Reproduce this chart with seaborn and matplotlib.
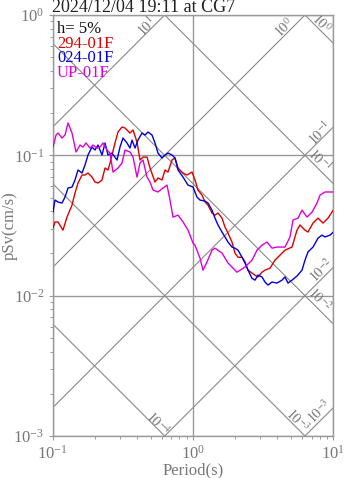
import numpy as np
import pandas as pd
import matplotlib
matplotlib.use("Agg")
import matplotlib.pyplot as plt
import seaborn as sns
from matplotlib.ticker import LogLocator, NullFormatter

# ---------------- data ----------------
period_294 = [0.1005, 0.1038, 0.1091, 0.1184, 0.1264, 0.1373, 0.1442, 0.1515, 0.1618, 0.1699,
              0.1785, 0.1906, 0.2002, 0.2103, 0.2246, 0.2360, 0.2479, 0.2562, 0.2780, 0.2921,
              0.3119, 0.3276, 0.3556, 0.3736, 0.3989, 0.4191, 0.4402, 0.4701, 0.4938, 0.5362,
              0.5632, 0.6012, 0.6316, 0.6635, 0.7086, 0.7444, 0.7822, 0.8487, 0.9064, 0.9837,
              1.033, 1.085, 1.159, 1.218, 1.279, 1.366, 1.435, 1.507, 1.610, 1.691,
              1.776, 1.897, 1.992, 2.093, 2.235, 2.348, 2.466, 2.633, 2.766, 2.906,
              3.102, 3.261, 3.538, 3.840, 4.309, 4.526, 5.078, 5.511, 5.790, 6.284,
              6.602, 7.168, 7.780, 8.444, 9.169, 10.0]
sv_294 = [0.0303, 0.0335, 0.0335, 0.0293, 0.0363, 0.0442, 0.0539, 0.0635, 0.0724, 0.0724,
          0.0748, 0.0700, 0.0645, 0.0635, 0.0667, 0.0812, 0.0786, 0.0882, 0.1224, 0.1466,
          0.1591, 0.1565, 0.1442, 0.1515, 0.1244, 0.0926, 0.0972, 0.0972, 0.0812, 0.0645,
          0.0689, 0.0667, 0.0786, 0.0760, 0.0926, 0.0957, 0.0812, 0.0748, 0.0724, 0.0760,
          0.0667, 0.0566, 0.0521, 0.0465, 0.0442, 0.0388, 0.0375, 0.0388, 0.0357, 0.0308,
          0.0279, 0.0241, 0.0201, 0.0188, 0.0188, 0.0174, 0.0152, 0.0145, 0.0140, 0.0136,
          0.0147, 0.0152, 0.0157, 0.0179, 0.0201, 0.0211, 0.0222, 0.0293, 0.0319, 0.0293,
          0.0284, 0.0329, 0.0357, 0.0329, 0.0357, 0.0407]

period_024 = [0.1005, 0.1038, 0.1091, 0.1165, 0.1224, 0.1286, 0.1373, 0.1442, 0.1515, 0.1618,
              0.1699, 0.1785, 0.1906, 0.2002, 0.2103, 0.2246, 0.2360, 0.2479, 0.2647, 0.2873,
              0.3018, 0.3170, 0.3385, 0.3556, 0.3675, 0.3860, 0.4055, 0.4331, 0.4549, 0.4779,
              0.5104, 0.5362, 0.5632, 0.6012, 0.6316, 0.6635, 0.7086, 0.7444, 0.7822, 0.8487,
              0.9213, 1.0, 1.068, 1.122, 1.218, 1.279, 1.366, 1.435, 1.507, 1.610,
              1.691, 1.776, 1.897, 1.992, 2.093, 2.235, 2.348, 2.466, 2.633, 2.766,
              2.906, 3.102, 3.261, 3.425, 3.656, 3.969, 4.309, 4.526, 4.754, 5.078,
              5.511, 5.983, 6.284, 6.602, 7.168, 7.780, 8.306, 8.728, 9.474, 10.0]
sv_024 = [0.0394, 0.0480, 0.0465, 0.0457, 0.0504, 0.0585, 0.0594, 0.0667, 0.0786, 0.0748,
          0.0853, 0.1005, 0.1146, 0.1091, 0.1184, 0.1005, 0.1224, 0.1005, 0.1038, 0.0926,
          0.1146, 0.1329, 0.1224, 0.1127, 0.1285, 0.1127, 0.1285, 0.1442, 0.1395, 0.1466,
          0.1395, 0.1224, 0.1038, 0.0957, 0.1005, 0.1038, 0.1005, 0.0957, 0.0786, 0.0700,
          0.0614, 0.0594, 0.0504, 0.0480, 0.0472, 0.0457, 0.0407, 0.0357, 0.0319, 0.0284,
          0.0262, 0.0241, 0.0222, 0.0218, 0.0211, 0.0188, 0.0171, 0.0152, 0.0133, 0.0129,
          0.0140, 0.0136, 0.0125, 0.0119, 0.0125, 0.0123, 0.0129, 0.0136, 0.0123, 0.0129,
          0.0138, 0.0152, 0.0179, 0.0205, 0.0222, 0.0257, 0.0270, 0.0262, 0.0270, 0.0284]

period_up = [0.1005, 0.1056, 0.1091, 0.1165, 0.1224, 0.1286, 0.1373, 0.1466, 0.1566, 0.1644,
             0.1728, 0.1845, 0.1938, 0.2069, 0.2173, 0.2284, 0.2438, 0.2562, 0.2690, 0.2921,
             0.3119, 0.3276, 0.3556, 0.3736, 0.3989, 0.4191, 0.4402, 0.4701, 0.4938, 0.5188,
             0.5632, 0.6112, 0.6527, 0.6857, 0.7203, 0.7822, 0.8487, 0.9213, 1.0, 1.033,
             1.122, 1.178, 1.258, 1.366, 1.435, 1.610, 1.776, 2.059, 2.348, 2.633,
             2.858, 3.102, 3.370, 3.656, 3.969, 4.526, 4.914, 5.162, 5.602, 5.983,
             6.494, 7.051, 7.652, 8.038, 8.728, 10.0]
sv_up = [0.1146, 0.1395, 0.1442, 0.1329, 0.1395, 0.1699, 0.1442, 0.1056, 0.1184, 0.1146,
         0.1224, 0.1127, 0.1184, 0.1127, 0.1146, 0.1224, 0.1091, 0.1038, 0.0760, 0.0812,
         0.0882, 0.1091, 0.1056, 0.0972, 0.0700, 0.0882, 0.0926, 0.0700, 0.0645, 0.0566,
         0.0548, 0.0585, 0.0614, 0.0480, 0.0363, 0.0375, 0.0335, 0.0293, 0.0237, 0.0229,
         0.0185, 0.0152, 0.0174, 0.0211, 0.0218, 0.0201, 0.0171, 0.0147, 0.0160, 0.0179,
         0.0211, 0.0229, 0.0241, 0.0218, 0.0222, 0.0222, 0.0262, 0.0346, 0.0357, 0.0407,
         0.0363, 0.0394, 0.0457, 0.0521, 0.0548, 0.0548]

components = ["294-01F", "024-01F", "UP-01F"]
colors = ["#dd0000", "#0000dd", "#dd00dd"]
title = "2024/12/04 19:11 at CG7"
damping_label = "h= 5%"

# tripartite reference lines (acceleration in cm/s^2, displacement in cm)
accel_levels = [1e1, 1e0, 1e-1, 1e-2, 1e-3]
disp_levels = [1e0, 1e-1, 1e-2, 1e-3, 1e-4]
accel_label_text = [r"$10^{1}$", r"$10^{0}$", r"$10^{-1}$", r"$10^{-2}$", r"$10^{-3}$"]
disp_label_text = [r"$10^{0}$", r"$10^{-1}$", r"$10^{-2}$", r"$10^{-3}$", r"$10^{-4}$"]
accel_label_pos = [(0.470, 0.821), (4.45, 0.808), (8.04, 0.1442), (8.31, 0.0152), (8.04, 0.001505)]
disp_label_pos = [(8.17, 0.877), (8.04, 0.0926), (8.04, 0.0093), (5.51, 0.001277), (0.563, 0.001216)]

# ---------------- figure ----------------
sns.set_style("ticks")
plt.rcParams["font.family"] = ["Liberation Serif", "DejaVu Serif"]
plt.rcParams["mathtext.fontset"] = "stix"

W, H = 347, 478
fig = plt.figure(figsize=(W / 100, H / 100), dpi=100)
ax = fig.add_axes([52.7 / W, 1 - 436 / H, 280.6 / W, 421 / H])

grey = "#999999"
txt_grey = "#777777"

# reference diagonal lines
Tline = np.array([0.1, 10.0])
for A in accel_levels:
    ax.plot(Tline, A * Tline / (2 * np.pi), color="#8a8a8a", lw=0.8, zorder=1)
for D in disp_levels:
    ax.plot(Tline, 2 * np.pi * D / Tline, color="#8a8a8a", lw=0.8, zorder=1)
for s, (tx, ty) in zip(accel_label_text, accel_label_pos):
    ax.text(tx, ty, s, rotation=45, rotation_mode="anchor", ha="center", va="center",
            fontsize=10, color="#777777", zorder=2)
for s, (tx, ty) in zip(disp_label_text, disp_label_pos):
    ax.text(tx, ty, s, rotation=-45, rotation_mode="anchor", ha="center", va="center",
            fontsize=10, color="#777777", zorder=2)

# spectra
frames = []
for name, p, v in [(components[0], period_294, sv_294),
                   (components[1], period_024, sv_024),
                   (components[2], period_up, sv_up)]:
    frames.append(pd.DataFrame({"Period": p, "pSv": v, "Component": name}))
df = pd.concat(frames, ignore_index=True)
sns.lineplot(data=df, x="Period", y="pSv", hue="Component", hue_order=components,
             palette=dict(zip(components, colors)), sort=False, estimator=None,
             legend=False, linewidth=1.0, ax=ax, zorder=3)

ax.set_xscale("log")
ax.set_yscale("log")
ax.set_xlim(0.1, 10)
ax.set_ylim(1e-3, 1)

ax.xaxis.set_major_locator(LogLocator(base=10, numticks=10))
ax.yaxis.set_major_locator(LogLocator(base=10, numticks=10))
ax.xaxis.set_minor_locator(LogLocator(base=10, subs=np.arange(2, 10), numticks=20))
ax.yaxis.set_minor_locator(LogLocator(base=10, subs=np.arange(2, 10), numticks=20))
ax.xaxis.set_minor_formatter(NullFormatter())
ax.yaxis.set_minor_formatter(NullFormatter())

ax.grid(which="major", color=grey, lw=1.0, zorder=0)
ax.set_axisbelow(True)
for sp in ax.spines.values():
    sp.set_color(grey)
    sp.set_linewidth(1.0)
ax.tick_params(which="major", direction="out", length=3.2, width=0.8, color=grey,
               labelcolor=txt_grey, labelsize=12, pad=3)
ax.tick_params(which="minor", direction="out", length=2.4, width=0.7, color=grey)

ax.set_xlabel("Period(s)", fontsize=12, color=txt_grey, labelpad=0)
ax.set_ylabel("pSv(cm/s)", fontsize=12, color=txt_grey, labelpad=0)
ax.yaxis.set_label_coords(-0.125, 0.5)

# title, baseline just above the frame
fig.text(52.5 / W, 1 - 11.5 / H, title, fontsize=13, color="#222222",
         ha="left", va="baseline")

# text legend
ax.text(0.015, 0.9656, damping_label, transform=ax.transAxes, fontsize=12,
        color="#111111", va="center", ha="left", zorder=5)
for i, (name, c) in enumerate(zip(components, colors)):
    ax.text(0.015, 0.9323 - i * 0.0350, name, transform=ax.transAxes, fontsize=12,
            color=c, va="center", ha="left", zorder=5)

fig.savefig("out.png", dpi=100)
